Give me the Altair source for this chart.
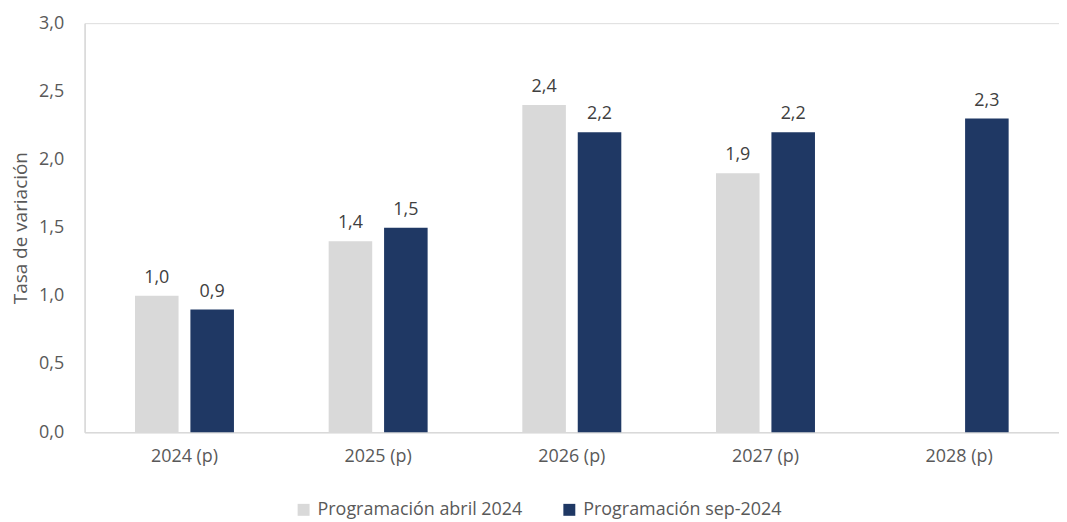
import altair as alt
import pandas as pd

years = ["2024 (p)", "2025 (p)", "2026 (p)", "2027 (p)", "2028 (p)"]
series_names = ["Programación abril 2024", "Programación sep-2024"]
abril_2024 = [1.0, 1.4, 2.4, 1.9, None]
sep_2024 = [0.9, 1.5, 2.2, 2.2, 2.3]
colors = ["#D9D9D9", "#1F3864"]

rows = []
for y, a, s in zip(years, abril_2024, sep_2024):
    if a is not None:
        rows.append({"year": y, "serie": series_names[0], "value": a})
    if s is not None:
        rows.append({"year": y, "serie": series_names[1], "value": s})
df = pd.DataFrame(rows)

FONT = "Open Sans"
FS = 18

x_enc = alt.X("year:N", sort=years,
              scale=alt.Scale(paddingInner=0.489, paddingOuter=0.26),
              axis=alt.Axis(title=None, labelAngle=0, ticks=False, labelPadding=15,
                            domainColor="#D9D9D9", domainWidth=1.5,
                            labelFont=FONT, labelFontSize=FS, labelColor="#595959"))
xo_enc = alt.XOffset("serie:N", sort=series_names,
                     scale=alt.Scale(paddingInner=0.214, paddingOuter=0))
y_enc = alt.Y("value:Q",
              scale=alt.Scale(domain=[0, 3], nice=False),
              axis=alt.Axis(title="Tasa de variación", values=[0, 0.5, 1, 1.5, 2, 2.5, 3],
                            labelExpr="replace(format(datum.value, '.1f'), '.', ',')",
                            grid=False, ticks=False, labelPadding=21,
                            domainColor="#D9D9D9", domainWidth=1.5,
                            labelFont=FONT, labelFontSize=FS, labelColor="#595959",
                            titleFont=FONT, titleFontSize=19, titleFontWeight="normal",
                            titleColor="#595959", titlePadding=8))

color_enc = alt.Color("serie:N", sort=series_names,
                      scale=alt.Scale(domain=series_names, range=colors),
                      legend=alt.Legend(title=None, orient="none", direction="horizontal",
                                        legendX=211, legendY=480,
                                        symbolType="square", symbolSize=144,
                                        symbolStrokeWidth=0, labelOffset=5,
                                        columnPadding=38, labelLimit=400,
                                        labelFont=FONT, labelFontSize=FS,
                                        labelColor="#595959"))

bars = alt.Chart(df).mark_bar().encode(x=x_enc, xOffset=xo_enc, y=y_enc, color=color_enc)

labels = alt.Chart(df).transform_calculate(
    lab="replace(format(datum.value, '.1f'), '.', ',')"
).mark_text(baseline="alphabetic", dy=-13, font=FONT, fontSize=FS, color="#404040").encode(
    x=alt.X("year:N", sort=years), xOffset=alt.XOffset("serie:N", sort=series_names),
    y="value:Q", text="lab:N")

chart = alt.layer(bars, labels).properties(
    width=979, height=411,
    padding={"left": 3, "top": 5, "right": 0, "bottom": 0}
).configure_view(stroke=None).configure(background="white")

chart.save("out.html", embed_options={"renderer": "svg", "actions": False})
